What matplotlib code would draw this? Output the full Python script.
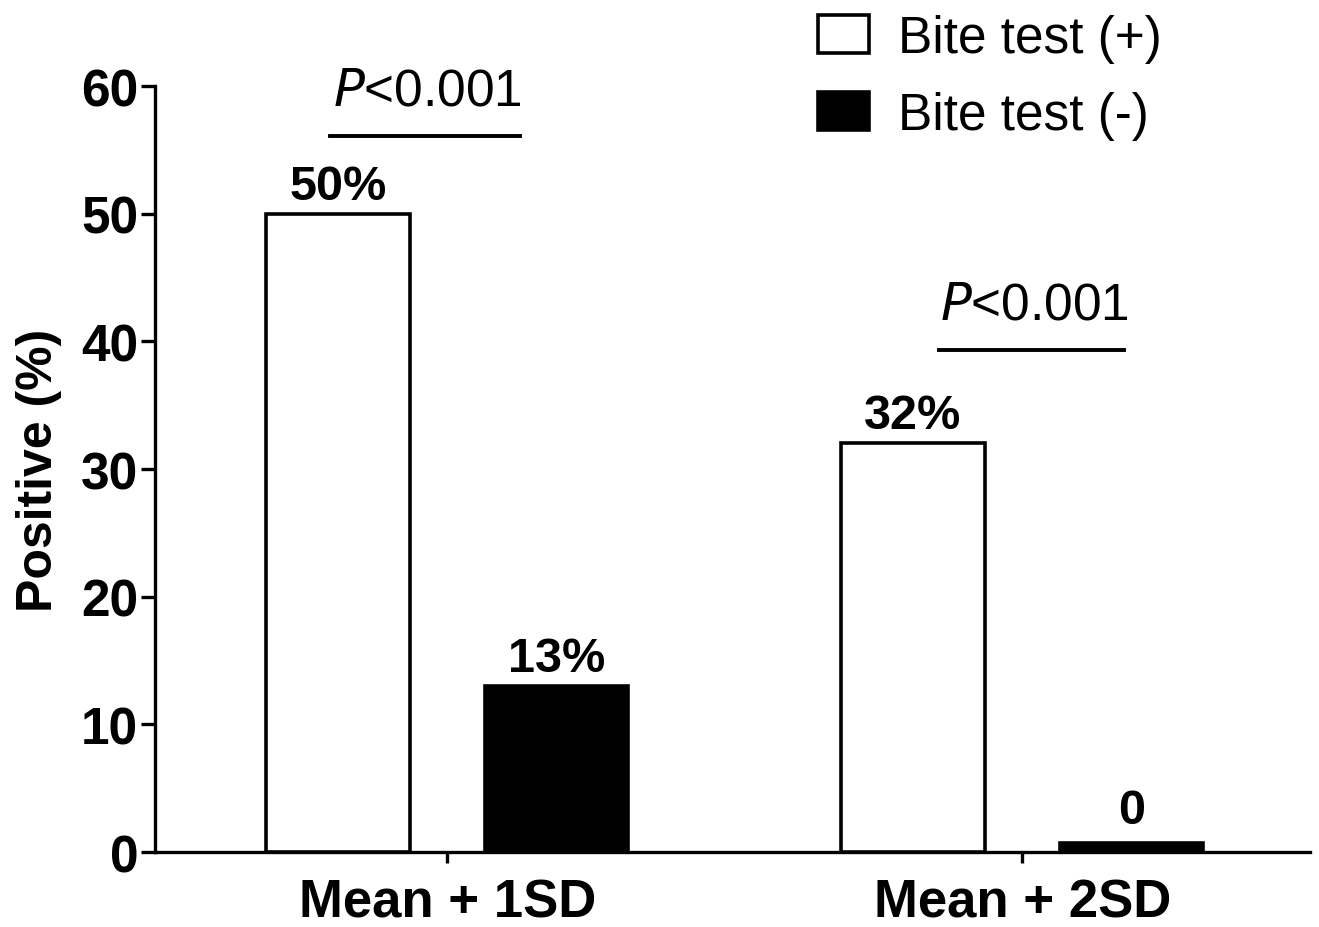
import numpy as np
import matplotlib.pyplot as plt
from matplotlib.patches import Patch

# data
groups = ['Mean + 1SD', 'Mean + 2SD']
bite_pos = [50, 32]
bite_neg = [13, 0]
pos_labels = ['50%', '32%']
neg_labels = ['13%', '0']
p_text = ['<0.001', '<0.001']
p_line_y = [56.1, 39.3]

plt.rcParams['font.family'] = ['Liberation Sans', 'DejaVu Sans']

fig = plt.figure(figsize=(13.19, 9.28), dpi=100)
ax = fig.add_axes([0.1175, 0.0808, 0.8755, 0.8254])

x = np.arange(len(groups))
off = 0.19
w = 0.25
lw = 2.6

ax.bar(x - off, bite_pos, width=w, color='white', edgecolor='black', linewidth=lw, zorder=3)
ax.bar(x + off, bite_neg, width=w, color='black', edgecolor='black', linewidth=lw, zorder=3)
# zero bar drawn as a flat black strip
for i, v in enumerate(bite_neg):
    if v == 0:
        ax.bar(x[i] + off, 0.7, width=w, color='black', edgecolor='black', linewidth=lw, zorder=3)

# value labels
for i in range(len(groups)):
    ax.text(x[i] - off, bite_pos[i] + 0.4, pos_labels[i], ha='center', va='bottom',
            fontsize=35, fontweight='bold')
    ax.text(x[i] + off, bite_neg[i] + 0.4 + (1.1 if bite_neg[i] == 0 else 0), neg_labels[i],
            ha='center', va='bottom', fontsize=35, fontweight='bold')

# significance bars
sig_x0 = [-0.204, 0.855]
sig_x1 = [0.127, 1.177]
for i in range(len(groups)):
    x0, x1 = sig_x0[i], sig_x1[i]
    ax.plot([x0, x1], [p_line_y[i], p_line_y[i]], color='black', lw=2.8, clip_on=False)
    ax.text((x0 + x1) / 2 + 0.005, p_line_y[i] + 1.6, r'$\mathit{P}$' + p_text[i],
            ha='center', va='bottom', fontsize=37)

ax.set_xlim(-0.508, 1.5)
ax.set_ylim(0, 60)
ax.set_yticks([0, 10, 20, 30, 40, 50, 60])
ax.set_xticks(x)
ax.set_xticklabels(groups, fontsize=38, fontweight='bold')
for lab in ax.get_yticklabels():
    lab.set_fontsize(37)
    lab.set_fontweight('bold')
ax.tick_params(axis='y', length=10, width=2.4, pad=2)
ax.tick_params(axis='x', length=8, width=2.4, pad=10)
ax.set_ylabel('Positive (%)', fontsize=36, fontweight='bold', labelpad=14)

for s in ['top', 'right']:
    ax.spines[s].set_visible(False)
ax.spines['left'].set_linewidth(2.4)
ax.spines['bottom'].set_linewidth(2.4)

handles = [Patch(facecolor='white', edgecolor='black', linewidth=2.6, label='Bite test (+)'),
           Patch(facecolor='black', edgecolor='black', linewidth=2.6, label='Bite test (-)')]
fig.legend(handles=handles, loc='upper left', bbox_to_anchor=(0.585, 1.034), frameon=False,
           fontsize=37, handlelength=1.0, handleheight=0.76, handletextpad=0.55,
           labelspacing=0.55)

plt.savefig('out.png', dpi=100)
